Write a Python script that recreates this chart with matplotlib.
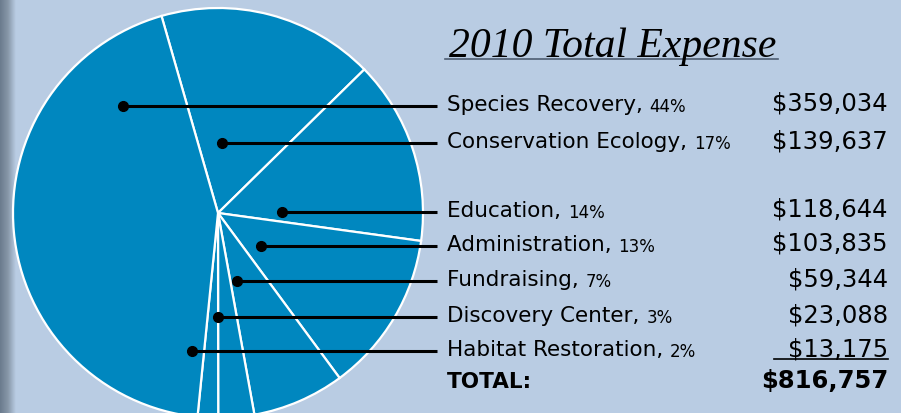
import numpy as np
import matplotlib.pyplot as plt
from matplotlib.colors import LinearSegmentedColormap

# expense data (2010)
categories = ['Conservation Ecology', 'Education', 'Administration', 'Fundraising',
              'Discovery Center', 'Habitat Restoration', 'Species Recovery']
amounts = [139637, 118644, 103835, 59344, 23088, 13175, 359034]
percents = [17, 14, 13, 7, 3, 2, 44]
total = 816757

# order of the rows in the key on the right
row_order = ['Species Recovery', 'Conservation Ecology', 'Education', 'Administration',
             'Fundraising', 'Discovery Center', 'Habitat Restoration']

bg = '#b9cce3'
pie_color = '#0087bf'
H = 413

fig = plt.figure(figsize=(9.01, 4.13), dpi=100)
fig.patch.set_facecolor(bg)
ax = fig.add_axes([0, 0, 1, 1])
ax.set_facecolor(bg)

# dark gradient strip on the left edge
grad = np.linspace(0, 1, 64).reshape(1, -1)
cm = LinearSegmentedColormap.from_list('edge', ['#6a7b8d', '#8797a8', bg])
ax.imshow(grad, cmap=cm, extent=[0, 16, 0, H], aspect='auto', zorder=0)

wedges, _ = ax.pie(amounts, colors=[pie_color] * len(amounts), startangle=106,
                   counterclock=False, center=(218, H - 213), radius=205,
                   wedgeprops=dict(edgecolor='white', linewidth=1.6), frame=True)

ax.set_xlim(0, 901)
ax.set_ylim(0, H)
ax.set_aspect('equal')
ax.axis('off')

# leader dots (x positions) and row heights, in pixels from the top
dot_x = [123, 222, 282, 261, 237, 218, 192]
row_y = [106, 143, 212, 246, 281, 317, 351]
line_end = 437
text_x = 447
value_x = 888

fnt = 'DejaVu Sans'
fig.canvas.draw()
rend = fig.canvas.get_renderer()
for name, dx, ry in zip(row_order, dot_x, row_y):
    i = categories.index(name)
    y = H - ry
    ax.plot([dx, line_end], [y, y], color='black', lw=2.2, solid_capstyle='butt', zorder=3)
    ax.plot(dx, y, 'o', color='black', ms=7, zorder=4)
    t = ax.text(text_x, y + 1, name + ', ', fontsize=15.5, family=fnt, va='center', ha='left')
    bb = t.get_window_extent(renderer=rend)
    ax.text(bb.x1, y - 1, f'{percents[i]}%', fontsize=12, family=fnt, va='center', ha='left')
    ax.text(value_x, y + 2, f'${amounts[i]:,}', fontsize=17.5, family=fnt, va='center', ha='right')

# underline beneath the last value
ax.plot([774, value_x], [H - 359, H - 359], color='black', lw=1.2)

ax.text(text_x, H - 382, 'TOTAL:', fontsize=15.5, family=fnt, weight='bold', va='center', ha='left')
ax.text(value_x, H - 381, f'${total:,}', fontsize=17.5, family=fnt, weight='bold', va='center', ha='right')

# title
ax.text(449, H - 57, '2010 Total Expense', fontsize=30, family='Liberation Serif', style='italic',
        va='baseline', ha='left')
ax.plot([445, 778], [H - 59, H - 59], color='#4e5d72', lw=1.2)

fig.savefig('out.png', dpi=100, facecolor=bg)
